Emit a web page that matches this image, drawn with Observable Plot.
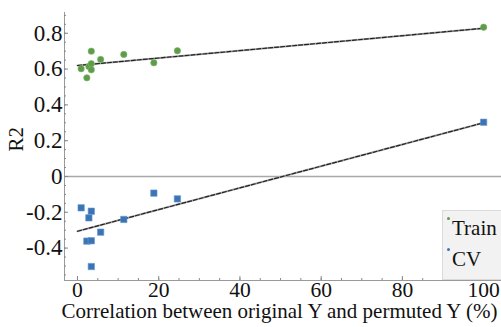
<!DOCTYPE html>
<html><head><meta charset="utf-8">
<script src="https://cdn.jsdelivr.net/npm/d3@7"></script>
<script src="https://cdn.jsdelivr.net/npm/@observablehq/plot@0.6"></script>
<style>
body{margin:0;background:#fff;}
#wrap{position:relative;width:501px;height:327px;overflow:hidden;}
#wrap svg, #wrap svg text{font-family:"Liberation Serif","Times New Roman",serif !important;}
.legend{position:absolute;left:442px;top:210px;width:70px;height:70px;background:#f2f2f2;border:1px solid #dadada;box-sizing:border-box;font-family:"Liberation Serif","Times New Roman",serif;font-size:21px;color:#111;}
.legend .row{position:absolute;left:9px;white-space:nowrap;line-height:1;}
.legend .dot{position:absolute;width:3px;height:3px;border-radius:50%;}
</style></head><body><div id="wrap"></div>
<script>
// permuted correlation (%) of each model
const permX   = [0.9, 2.3, 2.8, 3.4, 3.4, 3.4, 5.7, 11.4, 18.8, 24.6, 100];
const trainR2 = [0.602, 0.551, 0.615, 0.700, 0.630, 0.596, 0.654, 0.682, 0.635, 0.702, 0.834];
const cvR2    = [-0.175, -0.361, -0.231, -0.194, -0.359, -0.503, -0.311, -0.240, -0.093, -0.125, 0.303];
// fitted regression lines (end points)
const fitX     = [0, 100];
const trainFit = [0.620, 0.828];
const cvFit    = [-0.306, 0.300];
const xTicks = [0, 20, 40, 60, 80, 100];
const yTicks = [-0.4, -0.2, 0, 0.2, 0.4, 0.6, 0.8];
const xLabel = "Correlation between original Y and permuted Y (%)";
const yLabel = "R2";
const seriesNames = ["Train", "CV"];
const seriesColors = ["#5e9c4a", "#3b74b6"];

const xDomain = [-3.2, 104.4];
const yDomain = [-0.581, 0.916];
const xMinor = d3.range(0, 105, 5);
const yMinor = d3.range(-0.55, 0.91, 0.05).map(v => +v.toFixed(2));

const train = permX.map((x, i) => ({x, y: trainR2[i]}));
const cv = permX.map((x, i) => ({x, y: cvR2[i]}));
const trainLine = fitX.map((x, i) => ({x, y: trainFit[i]}));
const cvLine = fitX.map((x, i) => ({x, y: cvFit[i]}));

const plot = Plot.plot({
  width: 501, height: 327,
  marginLeft: 64, marginRight: 0, marginTop: 12, marginBottom: 47,
  style: {fontFamily: "'Liberation Serif', 'Times New Roman', serif", fontSize: "22px", color: "#111", background: "#fff"},
  x: {domain: xDomain, label: null},
  y: {domain: yDomain, label: null},
  marks: [
    Plot.ruleY([0], {stroke: "#a8a8a8", strokeWidth: 1.5}),
    Plot.ruleX([xDomain[0]], {stroke: "#9a9a9a"}),
    Plot.ruleY([yDomain[0]], {stroke: "#9a9a9a"}),
    Plot.axisX({ticks: xMinor, tickSize: -2, text: null, label: null, stroke: "#888"}),
    Plot.axisX({ticks: xTicks, tickSize: -4, text: null, label: null, stroke: "#888"}),
    Plot.axisY({ticks: yMinor, tickSize: -2, text: null, label: null, stroke: "#888"}),
    Plot.axisY({ticks: yTicks, tickSize: -4, text: null, label: null, stroke: "#888"}),
    Plot.axisX({ticks: xTicks, tickSize: 0, tickPadding: 1, fill: "#111", fontSize: 21.5, label: null}),
    Plot.axisY({ticks: yTicks, tickSize: 0, tickPadding: 2, fill: "#111", fontSize: 23, label: null,
      tickFormat: d => d === 0 ? "0" : String(d)}),
    Plot.text([xLabel], {frameAnchor: "bottom", dy: 37, dx: -3.5, lineAnchor: "bottom", fontSize: 21, fill: "#111"}),
    Plot.text([yLabel], {frameAnchor: "left", dx: -48, dy: 5, rotate: -90, fontSize: 21, fill: "#111"}),
    Plot.line(trainLine, {x: "x", y: "y", stroke: "#aaa", strokeWidth: 2}),
    Plot.line(trainLine, {x: "x", y: "y", stroke: "#222", strokeWidth: 1.2, strokeDasharray: "4,2"}),
    Plot.line(cvLine, {x: "x", y: "y", stroke: "#aaa", strokeWidth: 2}),
    Plot.line(cvLine, {x: "x", y: "y", stroke: "#222", strokeWidth: 1.2, strokeDasharray: "4,2"}),
    Plot.dot(train, {x: "x", y: "y", r: 3.2, fill: seriesColors[0], stroke: "#7fb56c", strokeWidth: 0.6}),
    Plot.dot(cv, {x: "x", y: "y", r: 3.6, symbol: "square", fill: seriesColors[1], stroke: "#6a97cc", strokeWidth: 0.6})
  ]
});
const wrap = document.getElementById("wrap");
wrap.appendChild(plot);

const legend = document.createElement("div");
legend.className = "legend";
seriesNames.forEach((name, i) => {
  const row = document.createElement("div");
  row.className = "row";
  row.style.top = (7 + i * 31) + "px";
  row.textContent = name;
  const dot = document.createElement("div");
  dot.className = "dot";
  dot.style.background = seriesColors[i];
  dot.style.left = "4px";
  dot.style.top = (6 + i * 31) + "px";
  legend.appendChild(dot);
  legend.appendChild(row);
});
wrap.appendChild(legend);
</script></body></html>
